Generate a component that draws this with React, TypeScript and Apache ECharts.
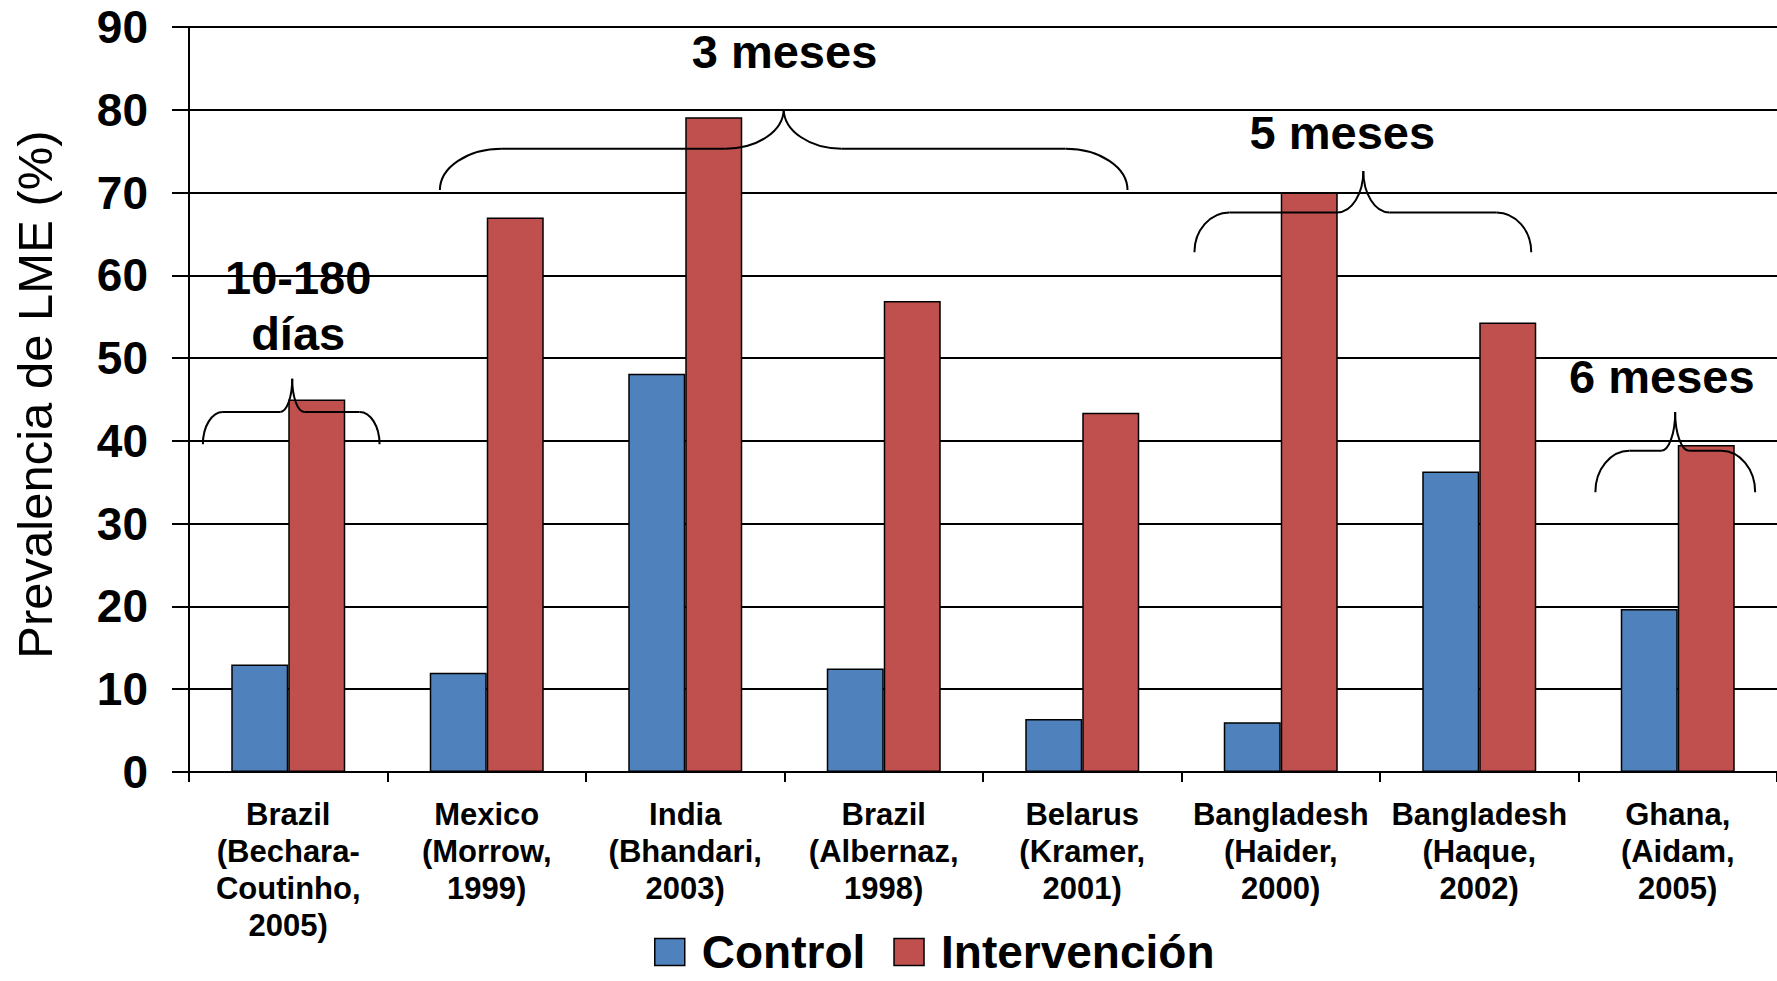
import React, { useEffect, useRef } from "react";
import * as echarts from "echarts";

const categories = [
  "Brazil\n(Bechara-\nCoutinho,\n2005)",
  "Mexico\n(Morrow,\n1999)",
  "India\n(Bhandari,\n2003)",
  "Brazil\n(Albernaz,\n1998)",
  "Belarus\n(Kramer,\n2001)",
  "Bangladesh\n(Haider,\n2000)",
  "Bangladesh\n(Haque,\n2002)",
  "Ghana,\n(Aidam,\n2005)",
];
const controlValues = [13, 12, 48.1, 12.5, 6.4, 6, 36.3, 19.7];
const interventionValues = [45, 67, 79.1, 56.9, 43.4, 70, 54.3, 39.5];
const seriesNames = ["Control", "Intervención"];
const yMin = 0;
const yMax = 90;
const yInterval = 10;
const yTitle = "Prevalencia de LME (%)";
const braceLabels = ["10-180\ndías", "3 meses", "5 meses", "6 meses"];

// annotation layout (category units / value units / px widths)
const braceLayout = [
  { uL: 0.07, uM: 0.52, uR: 0.96, vB: 39.6, vH: 43.5, vT: 47.5, wo: 20, wi: 12, tu: 0.55, tv: 56.3 },
  { uL: 1.264, uM: 2.996, uR: 4.728, vB: 70.3, vH: 75.3, vT: 80.1, wo: 62, wi: 58, tu: 3.0, tv: 87.0 },
  { uL: 5.065, uM: 5.916, uR: 6.762, vB: 62.8, vH: 67.6, vT: 72.6, wo: 35, wi: 26, tu: 5.81, tv: 77.3 },
  { uL: 7.085, uM: 7.487, uR: 7.89, vB: 33.8, vH: 38.8, vT: 43.5, wo: 34, wi: 14, tu: 7.42, tv: 47.8 },
];

const FONT = '"Liberation Sans", Arial, Helvetica, sans-serif';
const BLUE = "#4F81BD";
const RED = "#C0504D";

export default function App() {
  const ref = useRef<HTMLDivElement>(null);
  useEffect(() => {
    if (!ref.current) return;
    const chart = echarts.init(ref.current, undefined, { renderer: "svg" });
    chart.setOption({
      animation: false,
      backgroundColor: "#ffffff",
      grid: { left: 189, right: 0, top: 27, bottom: 209, containLabel: false },
      legend: {
        data: seriesNames,
        left: 649,
        top: 924,
        itemWidth: 30,
        itemHeight: 27,
        itemGap: 28,
        icon: "rect",
        itemStyle: { borderColor: "#000", borderWidth: 1.5 },
        textStyle: {
          fontFamily: FONT,
          fontWeight: "bold",
          fontSize: 46,
          color: "#000",
          padding: [0, 0, 0, 12],
        },
      },
      xAxis: {
        type: "category",
        data: categories,
        axisLine: { lineStyle: { color: "#000", width: 2 } },
        axisTick: { show: true, length: 10, lineStyle: { color: "#000", width: 2 } },
        axisLabel: {
          interval: 0,
          margin: 24,
          color: "#000",
          fontFamily: FONT,
          fontWeight: "bold",
          fontSize: 31,
          lineHeight: 37,
          align: "center",
        },
      },
      yAxis: {
        type: "value",
        min: yMin,
        max: yMax,
        interval: yInterval,
        name: yTitle,
        nameLocation: "middle",
        nameGap: 130,
        nameTextStyle: { fontFamily: FONT, fontSize: 49, color: "#000", padding: [0, 0, 0, 10] },
        axisLine: { show: true, lineStyle: { color: "#000", width: 2 } },
        axisTick: { show: true, length: 17, lineStyle: { color: "#000", width: 2 } },
        axisLabel: {
          margin: 41,
          color: "#000",
          fontFamily: FONT,
          fontWeight: "bold",
          fontSize: 46,
        },
        splitLine: { show: true, lineStyle: { color: "#000", width: 2 } },
      },
      series: [
        {
          name: seriesNames[0],
          type: "bar",
          data: controlValues,
          barWidth: 57,
          barGap: "0%",
          itemStyle: { color: BLUE, borderColor: "#000", borderWidth: 1.5 },
        },
        {
          name: seriesNames[1],
          type: "bar",
          data: interventionValues,
          barWidth: 57,
          barGap: "0%",
          itemStyle: { color: RED, borderColor: "#000", borderWidth: 1.5 },
        },
      ],
    });

    const c0 = chart.convertToPixel({ xAxisIndex: 0 }, 0) as number;
    const c1 = chart.convertToPixel({ xAxisIndex: 0 }, 1) as number;
    const band = c1 - c0;
    const x0 = c0 - band / 2;
    const px = (u: number) => x0 + u * band;
    const py = (v: number) => chart.convertToPixel({ yAxisIndex: 0 }, v) as number;
    const k = 0.552;
    const stroke = { stroke: "#000", lineWidth: 2, fill: "none" };
    const elements: any[] = [];
    braceLayout.forEach((b, i) => {
      const xL = px(b.uL), xM = px(b.uM), xR = px(b.uR);
      const yB = py(b.vB), yH = py(b.vH), yT = py(b.vT);
      const { wo, wi } = b;
      const dy1 = yB - yH;
      const dy2 = yH - yT;
      elements.push(
        { type: "bezierCurve", shape: { x1: xL, y1: yB, cpx1: xL, cpy1: yB - k * dy1, cpx2: xL + wo - k * wo, cpy2: yH, x2: xL + wo, y2: yH }, style: stroke, z: 100 },
        { type: "line", shape: { x1: xL + wo, y1: yH, x2: xM - wi, y2: yH }, style: stroke, z: 100 },
        { type: "bezierCurve", shape: { x1: xM - wi, y1: yH, cpx1: xM - wi + k * wi, cpy1: yH, cpx2: xM, cpy2: yT + k * dy2, x2: xM, y2: yT }, style: stroke, z: 100 },
        { type: "bezierCurve", shape: { x1: xM + wi, y1: yH, cpx1: xM + wi - k * wi, cpy1: yH, cpx2: xM, cpy2: yT + k * dy2, x2: xM, y2: yT }, style: stroke, z: 100 },
        { type: "line", shape: { x1: xM + wi, y1: yH, x2: xR - wo, y2: yH }, style: stroke, z: 100 },
        { type: "bezierCurve", shape: { x1: xR, y1: yB, cpx1: xR, cpy1: yB - k * dy1, cpx2: xR - wo + k * wo, cpy2: yH, x2: xR - wo, y2: yH }, style: stroke, z: 100 },
        {
          type: "text",
          x: px(b.tu),
          y: py(b.tv),
          z: 101,
          style: {
            text: braceLabels[i],
            align: "center",
            verticalAlign: "middle",
            font: `bold 47px ${FONT}`,
            lineHeight: 56,
            fill: "#000",
          },
        }
      );
    });
    chart.setOption({ graphic: { elements } });

    return () => chart.dispose();
  }, []);
  return (
    <div
      ref={ref}
      style={{ position: "absolute", left: 0, top: 0, width: 1777, height: 981, background: "#fff" }}
    />
  );
}
